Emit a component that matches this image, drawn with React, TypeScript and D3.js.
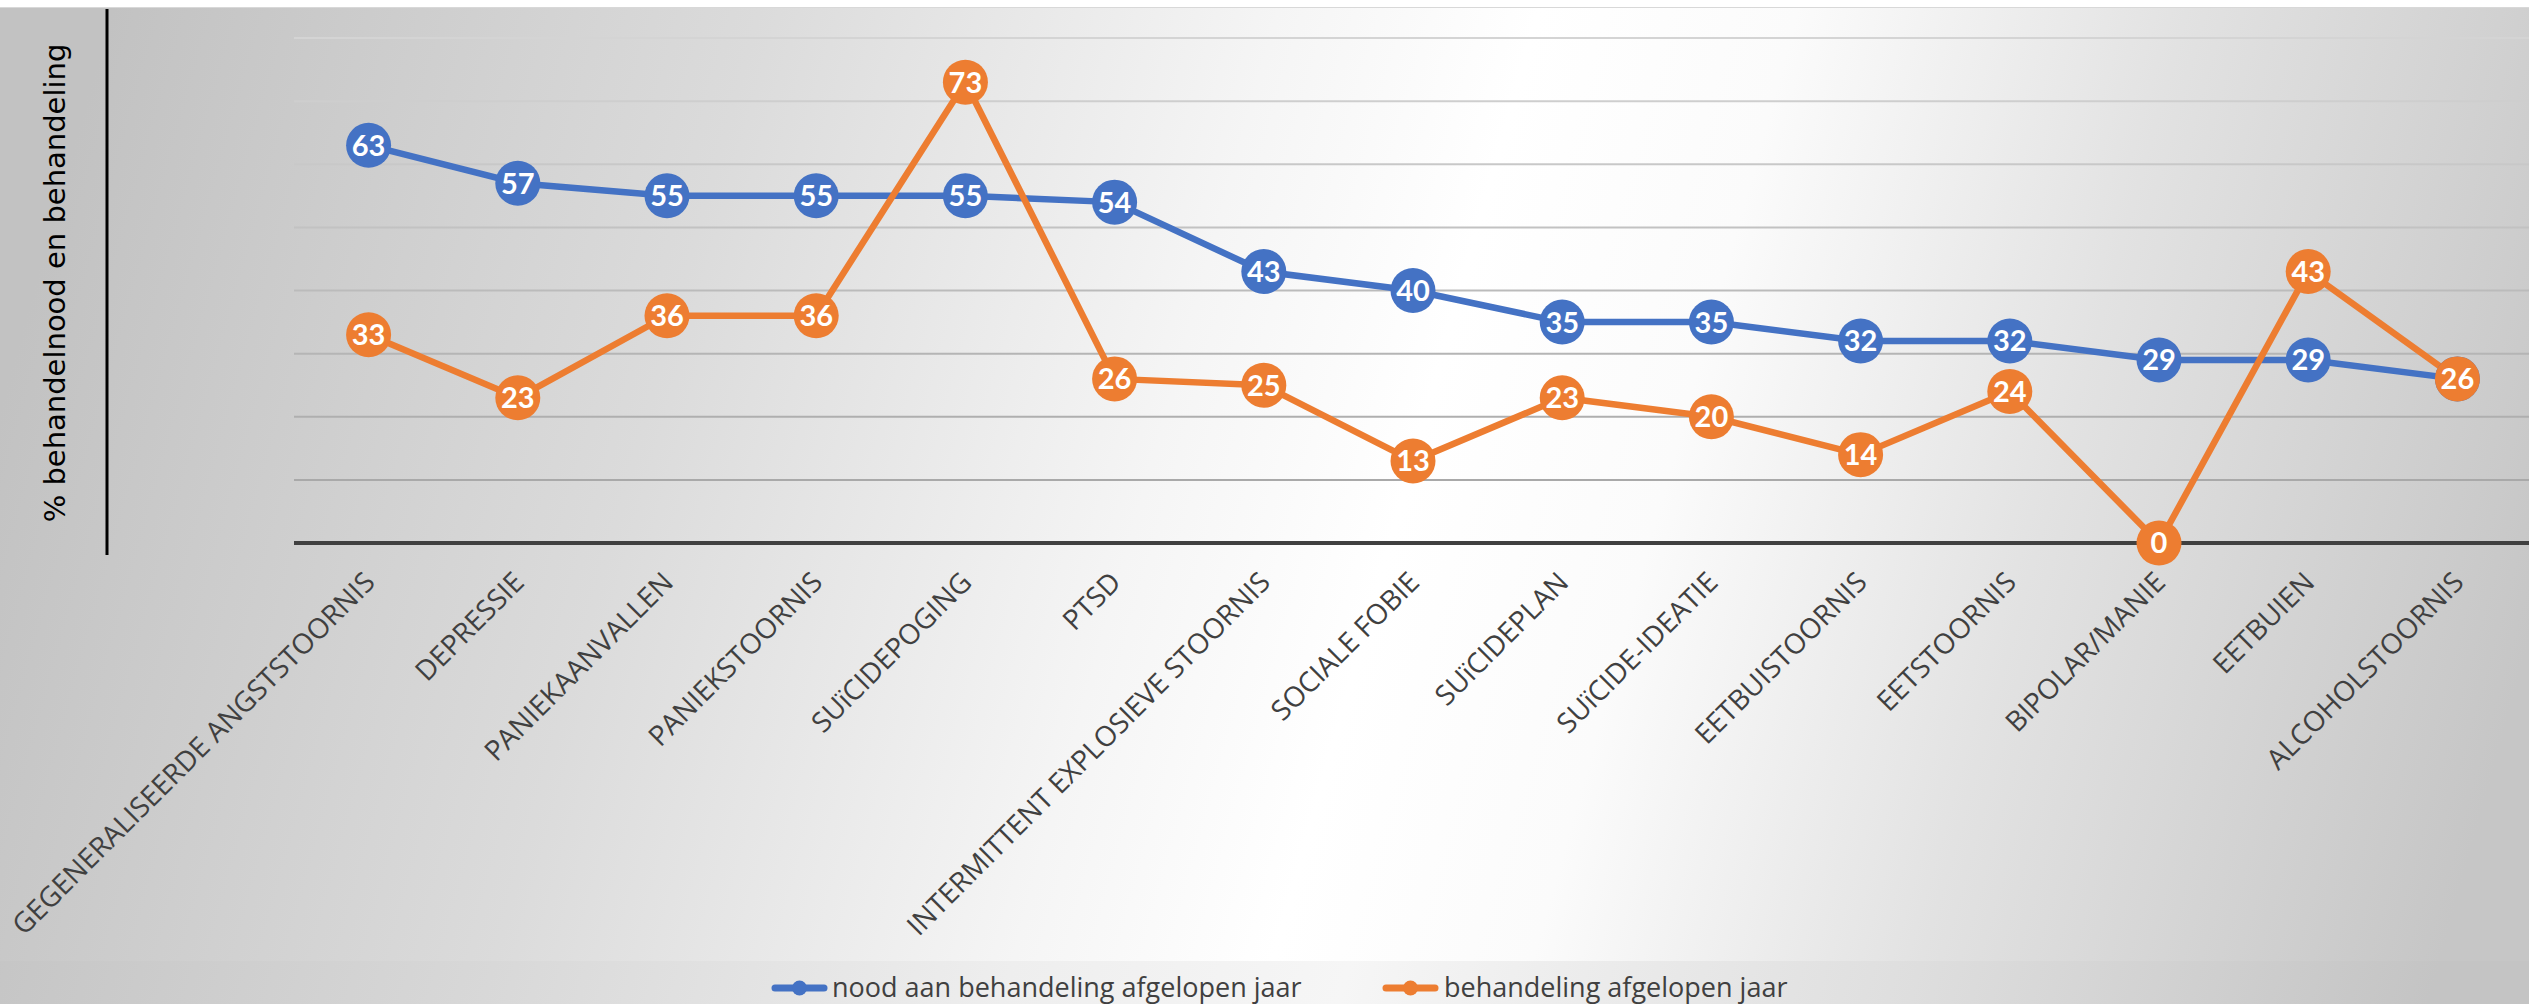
import React from "react";
import * as d3 from "d3";

// Categories along the x axis
const categories: string[] = [
  "GEGENERALISEERDE ANGSTSTOORNIS",
  "DEPRESSIE",
  "PANIEKAANVALLEN",
  "PANIEKSTOORNIS",
  "SUïCIDEPOGING",
  "PTSD",
  "INTERMITTENT EXPLOSIEVE STOORNIS",
  "SOCIALE FOBIE",
  "SUïCIDEPLAN",
  "SUïCIDE-IDEATIE",
  "EETBUISTOORNIS",
  "EETSTOORNIS",
  "BIPOLAR/MANIE",
  "EETBUIEN",
  "ALCOHOLSTOORNIS",
];

// Series values (%)
const noodValues: number[] = [63, 57, 55, 55, 55, 54, 43, 40, 35, 35, 32, 32, 29, 29, 26];
const behandelingValues: number[] = [33, 23, 36, 36, 73, 26, 25, 13, 23, 20, 14, 24, 0, 43, 26];

const seriesNames: string[] = [
  "nood aan behandeling afgelopen jaar",
  "behandeling afgelopen jaar",
];

const yDomain: [number, number] = [0, 80];
const yTickStep = 10;
const yTitle = "% behandelnood en behandeling";

const W = 2529;
const H = 1004;
const BLUE = "#4472C4";
const ORANGE = "#ED7D31";
const TEXT = "#404040";

export default function App() {
  const x = d3.scaleBand<string>().domain(categories).range([294, 2532]).padding(0);
  const cx = (c: string) => (x(c) as number) + x.bandwidth() / 2;
  const y = d3.scaleLinear().domain(yDomain).range([543, 38]);

  const ticks = d3.range(yDomain[0] + yTickStep, yDomain[1] + 1, yTickStep);
  const gridColor = d3
    .scaleLinear<string>()
    .domain([yDomain[1], yTickStep])
    .range(["#d4d4d4", "#a9a9a9"]);

  const line = d3
    .line<number>()
    .x((_, i) => cx(categories[i]))
    .y((d) => y(d));

  const series = [
    { name: seriesNames[0], values: noodValues, color: BLUE },
    { name: seriesNames[1], values: behandelingValues, color: ORANGE },
  ];

  const legendItems = [
    { x0: 772, x1: 827, tx: 832, name: seriesNames[0], color: BLUE },
    { x0: 1383, x1: 1438, tx: 1444, name: seriesNames[1], color: ORANGE },
  ];

  return (
    <svg
      width={W}
      height={H}
      style={{ position: "absolute", left: 0, top: 0, display: "block" }}
    >
      <defs>
        <linearGradient id="chartBg" gradientUnits="userSpaceOnUse" x1={85} y1={104} x2={2492} y2={776}>
          <stop offset="0" stopColor="#c0c0c0" />
          <stop offset="0.25" stopColor="#d8d8d8" />
          <stop offset="0.45" stopColor="#eeeeee" />
          <stop offset="0.58" stopColor="#f6f6f6" />
          <stop offset="0.8" stopColor="#dedede" />
          <stop offset="1" stopColor="#c4c4c4" />
        </linearGradient>
        <linearGradient id="plotBg" gradientUnits="userSpaceOnUse" x1={85} y1={104} x2={2492} y2={776}>
          <stop offset="0" stopColor="#c2c2c2" />
          <stop offset="0.25" stopColor="#dbdbdb" />
          <stop offset="0.45" stopColor="#f5f5f5" />
          <stop offset="0.55" stopColor="#ffffff" />
          <stop offset="0.65" stopColor="#fbfbfb" />
          <stop offset="0.8" stopColor="#e2e2e2" />
          <stop offset="1" stopColor="#c6c6c6" />
        </linearGradient>
      </defs>

      <rect x={0} y={0} width={W} height={H} fill="#ffffff" />
      <rect x={0} y={7} width={W} height={H - 7} fill="url(#chartBg)" />
      <rect x={0} y={7} width={W} height={961 - 7} fill="url(#plotBg)" />
      <line x1={0} x2={W} y1={7.5} y2={7.5} stroke="#d8d8d8" strokeWidth={1} />

      {/* horizontal gridlines */}
      {ticks.map((t) => (
        <line
          key={t}
          x1={294}
          x2={W}
          y1={y(t)}
          y2={y(t)}
          stroke={gridColor(t)}
          strokeWidth={2}
        />
      ))}
      {/* category axis */}
      <line x1={294} x2={W} y1={y(0)} y2={y(0)} stroke="#404040" strokeWidth={4} />

      {/* axis title with its rule */}
      <line x1={107} x2={107} y1={9} y2={555} stroke="#000" strokeWidth={3} />
      <text
        transform={`translate(65, 283) rotate(-90)`}
        textAnchor="middle"
        fontFamily="'DejaVu Sans', sans-serif"
        fontSize={29}
        fill="#000"
      >
        {yTitle}
      </text>

      {/* category labels */}
      {categories.map((c) => (
        <text
          key={c}
          transform={`translate(${cx(c) + 8}, 584) rotate(-45)`}
          textAnchor="end"
          fontFamily="'Open Sans', sans-serif"
          fontSize={28}
          fill={TEXT}
        >
          {c}
        </text>
      ))}

      {/* series lines */}
      {series.map((s) => (
        <path
          key={s.name}
          d={line(s.values) as string}
          fill="none"
          stroke={s.color}
          strokeWidth={6.5}
          strokeLinejoin="round"
          strokeLinecap="round"
        />
      ))}

      {/* value labels */}
      {series.map((s) => (
        <g key={s.name + "-labels"}>
          {s.values.map((v, i) => (
            <g key={i} transform={`translate(${cx(categories[i])}, ${y(v)})`}>
              <circle r={22.5} fill={s.color} />
              <text
                textAnchor="middle"
                dy="0.36em"
                fontFamily="Lato, 'Open Sans', sans-serif"
                fontWeight={700}
                fontSize={29}
                fill="#ffffff"
              >
                {v}
              </text>
            </g>
          ))}
        </g>
      ))}

      {/* legend */}
      {legendItems.map((l) => (
        <g key={l.name}>
          <line
            x1={l.x0 + 3}
            x2={l.x1 - 3}
            y1={988}
            y2={988}
            stroke={l.color}
            strokeWidth={7}
            strokeLinecap="round"
          />
          <circle cx={(l.x0 + l.x1) / 2} cy={988} r={7.5} fill={l.color} />
          <text
            x={l.tx}
            y={997}
            fontFamily="'Open Sans', sans-serif"
            fontSize={27}
            fill={TEXT}
          >
            {l.name}
          </text>
        </g>
      ))}
    </svg>
  );
}
